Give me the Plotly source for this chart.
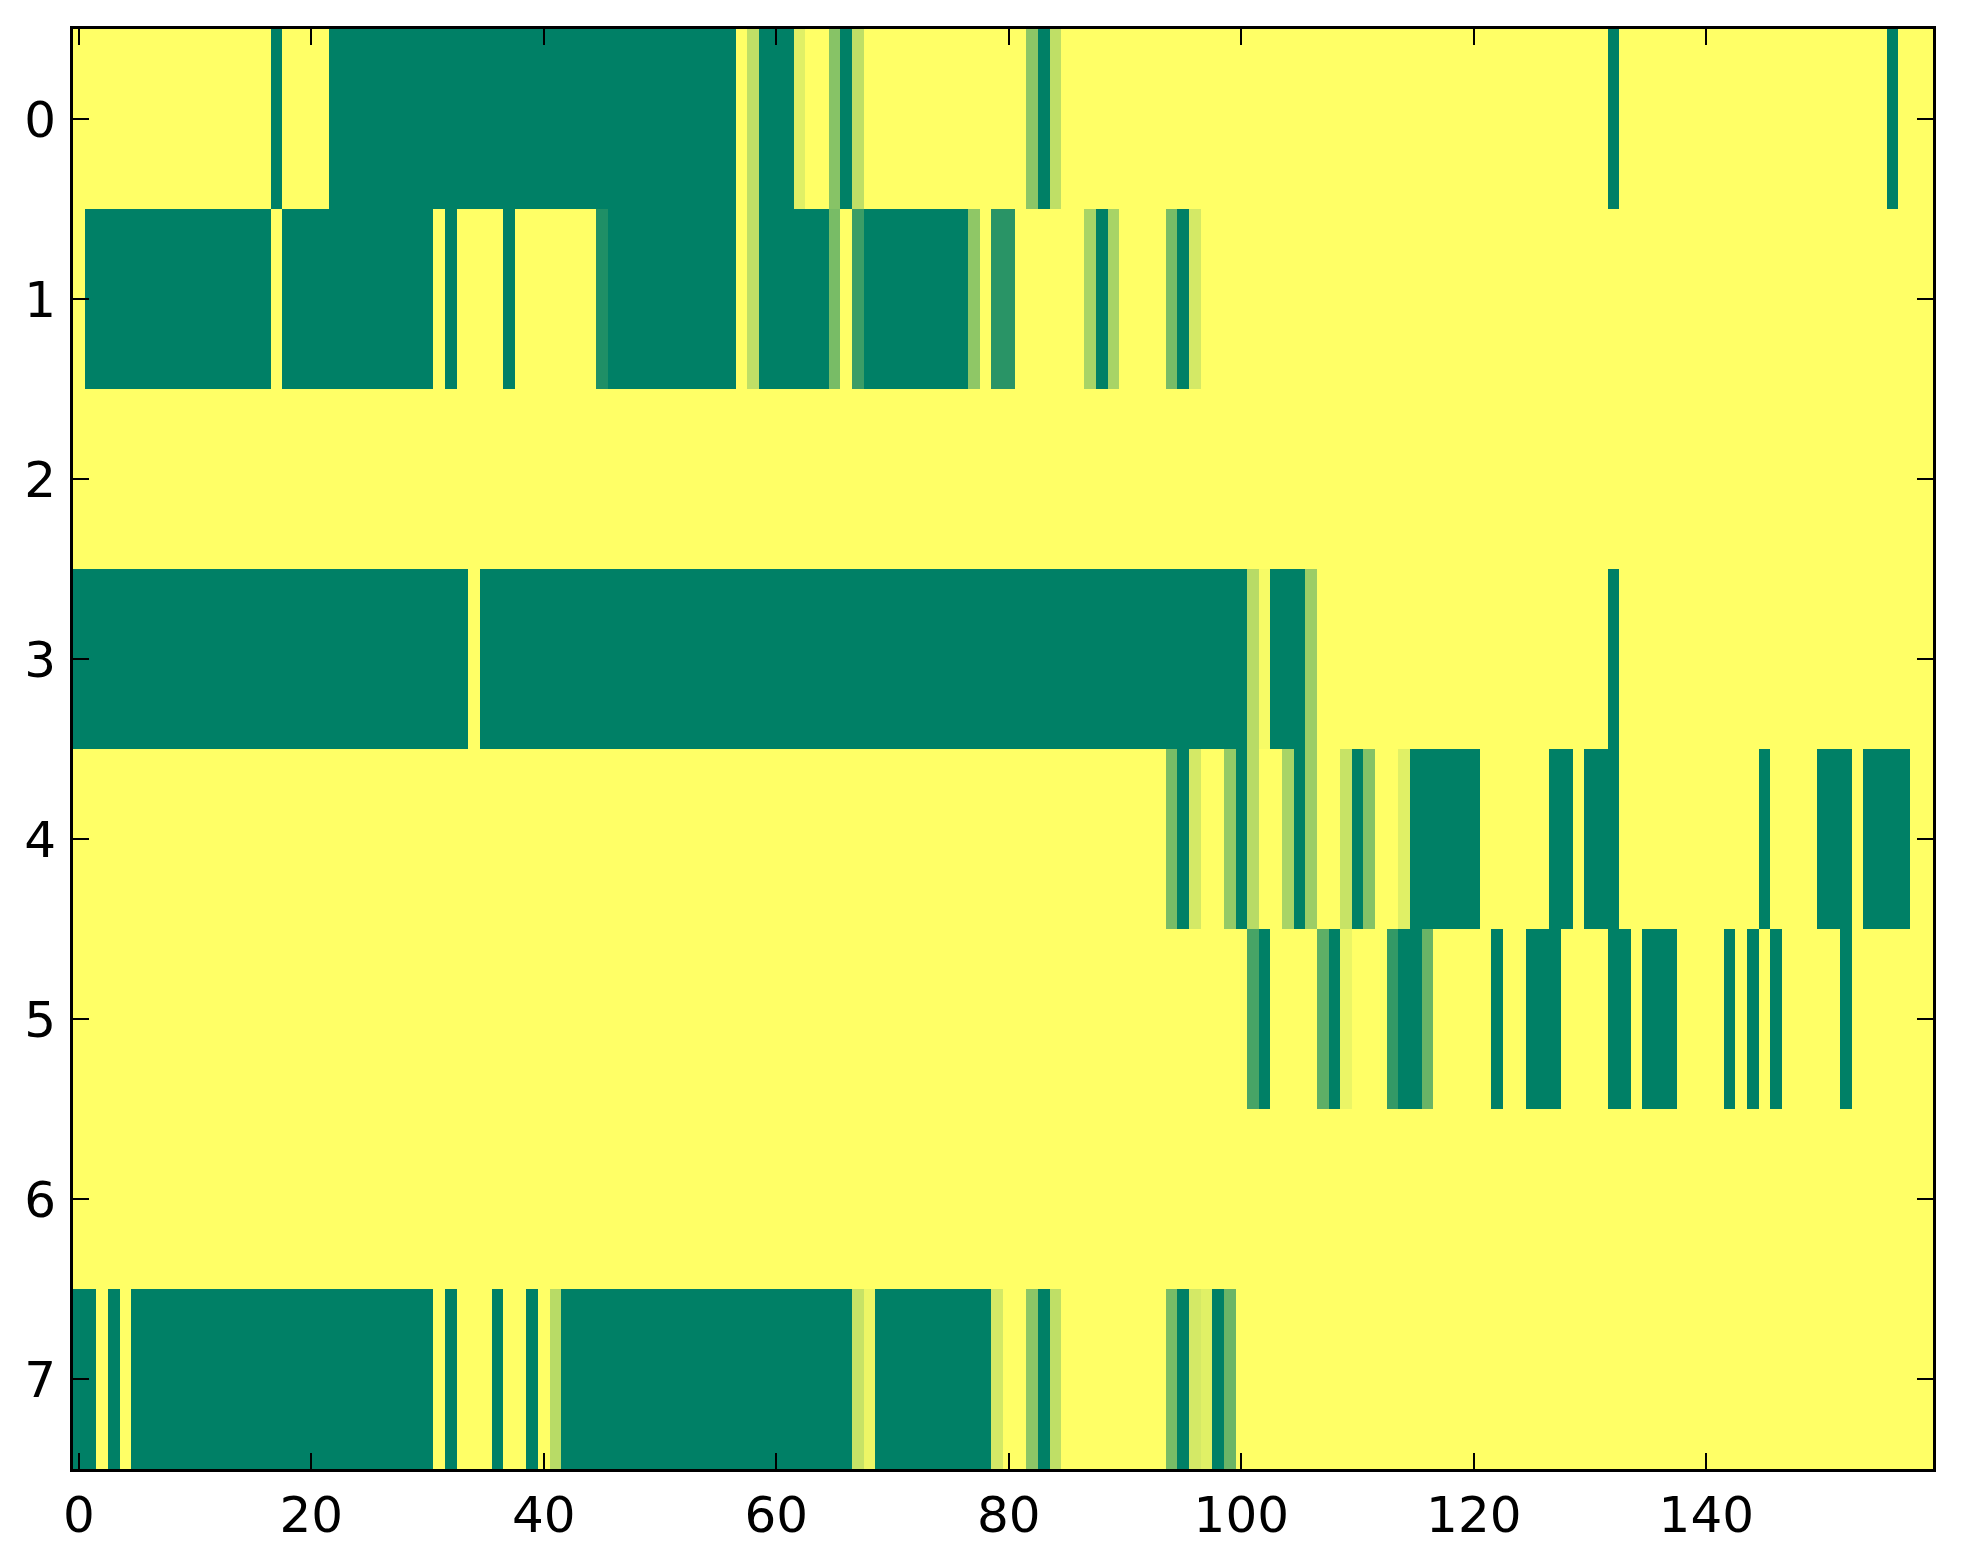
import plotly.graph_objects as go

# cell grid: 8 rows x 160 columns, values 0..1 (summer colormap)
columns = list(range(160))
rows = [0, 1, 2, 3, 4, 5, 6, 7]

row_0 = [1, 1, 1, 1, 1, 1, 1, 1, 1, 1, 1, 1, 1, 1, 1, 1, 1, 0, 1, 1,
         1, 1, 0, 0, 0, 0, 0, 0, 0, 0, 0, 0, 0, 0, 0, 0, 0, 0, 0, 0,
         0, 0, 0, 0, 0, 0, 0, 0, 0, 0, 0, 0, 0, 0, 0, 0, 0, 1, 0.75, 0,
         0, 0, 0.88, 1, 1, 0.53, 0, 0.75, 1, 1, 1, 1, 1, 1, 1, 1, 1, 1, 1, 1,
         1, 1, 0.55, 0, 0.75, 1, 1, 1, 1, 1, 1, 1, 1, 1, 1, 1, 1, 1, 1, 1,
         1, 1, 1, 1, 1, 1, 1, 1, 1, 1, 1, 1, 1, 1, 1, 1, 1, 1, 1, 1,
         1, 1, 1, 1, 1, 1, 1, 1, 1, 1, 1, 1, 0, 1, 1, 1, 1, 1, 1, 1,
         1, 1, 1, 1, 1, 1, 1, 1, 1, 1, 1, 1, 1, 1, 1, 1, 0, 1, 1, 1]

row_1 = [1, 0, 0, 0, 0, 0, 0, 0, 0, 0, 0, 0, 0, 0, 0, 0, 0, 1, 0, 0,
         0, 0, 0, 0, 0, 0, 0, 0, 0, 0, 0, 1, 0, 1, 1, 1, 1, 0, 1, 1,
         1, 1, 1, 1, 1, 0.12, 0, 0, 0, 0, 0, 0, 0, 0, 0, 0, 0, 1, 0.75, 0,
         0, 0, 0, 0, 0, 0.47, 1, 0.23, 0, 0, 0, 0, 0, 0, 0, 0, 0, 0.56, 1, 0.16,
         0.16, 1, 1, 1, 1, 1, 1, 0.66, 0, 0.66, 1, 1, 1, 1, 0.47, 0, 0.83, 1, 1, 1,
         1, 1, 1, 1, 1, 1, 1, 1, 1, 1, 1, 1, 1, 1, 1, 1, 1, 1, 1, 1,
         1, 1, 1, 1, 1, 1, 1, 1, 1, 1, 1, 1, 1, 1, 1, 1, 1, 1, 1, 1,
         1, 1, 1, 1, 1, 1, 1, 1, 1, 1, 1, 1, 1, 1, 1, 1, 1, 1, 1, 1]

row_2 = [1, 1, 1, 1, 1, 1, 1, 1, 1, 1, 1, 1, 1, 1, 1, 1, 1, 1, 1, 1,
         1, 1, 1, 1, 1, 1, 1, 1, 1, 1, 1, 1, 1, 1, 1, 1, 1, 1, 1, 1,
         1, 1, 1, 1, 1, 1, 1, 1, 1, 1, 1, 1, 1, 1, 1, 1, 1, 1, 1, 1,
         1, 1, 1, 1, 1, 1, 1, 1, 1, 1, 1, 1, 1, 1, 1, 1, 1, 1, 1, 1,
         1, 1, 1, 1, 1, 1, 1, 1, 1, 1, 1, 1, 1, 1, 1, 1, 1, 1, 1, 1,
         1, 1, 1, 1, 1, 1, 1, 1, 1, 1, 1, 1, 1, 1, 1, 1, 1, 1, 1, 1,
         1, 1, 1, 1, 1, 1, 1, 1, 1, 1, 1, 1, 1, 1, 1, 1, 1, 1, 1, 1,
         1, 1, 1, 1, 1, 1, 1, 1, 1, 1, 1, 1, 1, 1, 1, 1, 1, 1, 1, 1]

row_3 = [0, 0, 0, 0, 0, 0, 0, 0, 0, 0, 0, 0, 0, 0, 0, 0, 0, 0, 0, 0,
         0, 0, 0, 0, 0, 0, 0, 0, 0, 0, 0, 0, 0, 0, 1, 0, 0, 0, 0, 0,
         0, 0, 0, 0, 0, 0, 0, 0, 0, 0, 0, 0, 0, 0, 0, 0, 0, 0, 0, 0,
         0, 0, 0, 0, 0, 0, 0, 0, 0, 0, 0, 0, 0, 0, 0, 0, 0, 0, 0, 0,
         0, 0, 0, 0, 0, 0, 0, 0, 0, 0, 0, 0, 0, 0, 0, 0, 0, 0, 0, 0,
         0, 0.72, 0.97, 0, 0, 0, 0.61, 1, 1, 1, 1, 1, 1, 1, 1, 1, 1, 1, 1, 1,
         1, 1, 1, 1, 1, 1, 1, 1, 1, 1, 1, 1, 0, 1, 1, 1, 1, 1, 1, 1,
         1, 1, 1, 1, 1, 1, 1, 1, 1, 1, 1, 1, 1, 1, 1, 1, 1, 1, 1, 1]

row_4 = [1, 1, 1, 1, 1, 1, 1, 1, 1, 1, 1, 1, 1, 1, 1, 1, 1, 1, 1, 1,
         1, 1, 1, 1, 1, 1, 1, 1, 1, 1, 1, 1, 1, 1, 1, 1, 1, 1, 1, 1,
         1, 1, 1, 1, 1, 1, 1, 1, 1, 1, 1, 1, 1, 1, 1, 1, 1, 1, 1, 1,
         1, 1, 1, 1, 1, 1, 1, 1, 1, 1, 1, 1, 1, 1, 1, 1, 1, 1, 1, 1,
         1, 1, 1, 1, 1, 1, 1, 1, 1, 1, 1, 1, 1, 1, 0.47, 0, 0.83, 1, 1, 0.58,
         0, 0.72, 1, 1, 0.66, 0, 0.61, 1, 1, 0.78, 0, 0.52, 1, 1, 0.88, 0, 0, 0, 0, 0,
         0, 1, 1, 1, 1, 1, 1, 0, 0, 1, 0, 0, 0, 1, 1, 1, 1, 1, 1, 1,
         1, 1, 1, 1, 1, 0, 1, 1, 1, 1, 0, 0, 0, 1, 0, 0, 0, 0, 1, 1]

row_5 = [1, 1, 1, 1, 1, 1, 1, 1, 1, 1, 1, 1, 1, 1, 1, 1, 1, 1, 1, 1,
         1, 1, 1, 1, 1, 1, 1, 1, 1, 1, 1, 1, 1, 1, 1, 1, 1, 1, 1, 1,
         1, 1, 1, 1, 1, 1, 1, 1, 1, 1, 1, 1, 1, 1, 1, 1, 1, 1, 1, 1,
         1, 1, 1, 1, 1, 1, 1, 1, 1, 1, 1, 1, 1, 1, 1, 1, 1, 1, 1, 1,
         1, 1, 1, 1, 1, 1, 1, 1, 1, 1, 1, 1, 1, 1, 1, 1, 1, 1, 1, 1,
         1, 0.28, 0, 1, 1, 1, 1, 0.37, 0, 0.92, 1, 1, 1, 0.2, 0, 0, 0.41, 1, 1, 1,
         1, 1, 0, 1, 1, 0, 0, 0, 1, 1, 1, 1, 0, 0, 1, 0, 0, 0, 1, 1,
         1, 1, 0, 1, 0, 1, 0, 1, 1, 1, 1, 1, 0, 1, 1, 1, 1, 1, 1, 1]

row_6 = [1, 1, 1, 1, 1, 1, 1, 1, 1, 1, 1, 1, 1, 1, 1, 1, 1, 1, 1, 1,
         1, 1, 1, 1, 1, 1, 1, 1, 1, 1, 1, 1, 1, 1, 1, 1, 1, 1, 1, 1,
         1, 1, 1, 1, 1, 1, 1, 1, 1, 1, 1, 1, 1, 1, 1, 1, 1, 1, 1, 1,
         1, 1, 1, 1, 1, 1, 1, 1, 1, 1, 1, 1, 1, 1, 1, 1, 1, 1, 1, 1,
         1, 1, 1, 1, 1, 1, 1, 1, 1, 1, 1, 1, 1, 1, 1, 1, 1, 1, 1, 1,
         1, 1, 1, 1, 1, 1, 1, 1, 1, 1, 1, 1, 1, 1, 1, 1, 1, 1, 1, 1,
         1, 1, 1, 1, 1, 1, 1, 1, 1, 1, 1, 1, 1, 1, 1, 1, 1, 1, 1, 1,
         1, 1, 1, 1, 1, 1, 1, 1, 1, 1, 1, 1, 1, 1, 1, 1, 1, 1, 1, 1]

row_7 = [0, 0, 1, 0, 1, 0, 0, 0, 0, 0, 0, 0, 0, 0, 0, 0, 0, 0, 0, 0,
         0, 0, 0, 0, 0, 0, 0, 0, 0, 0, 0, 1, 0, 1, 1, 1, 0, 1, 1, 0,
         1, 0.72, 0, 0, 0, 0, 0, 0, 0, 0, 0, 0, 0, 0, 0, 0, 0, 0, 0, 0,
         0, 0, 0, 0, 0, 0, 0, 0.78, 0.93, 0, 0, 0, 0, 0, 0, 0, 0, 0, 0, 0.83,
         1, 1, 0.55, 0, 0.75, 1, 1, 1, 1, 1, 1, 1, 1, 1, 0.47, 0, 0.83, 0.88, 0, 0.42,
         1, 1, 1, 1, 1, 1, 1, 1, 1, 1, 1, 1, 1, 1, 1, 1, 1, 1, 1, 1,
         1, 1, 1, 1, 1, 1, 1, 1, 1, 1, 1, 1, 1, 1, 1, 1, 1, 1, 1, 1,
         1, 1, 1, 1, 1, 1, 1, 1, 1, 1, 1, 1, 1, 1, 1, 1, 1, 1, 1, 1]

x_ticks = [0, 20, 40, 60, 80, 100, 120, 140]
y_ticks = [0, 1, 2, 3, 4, 5, 6, 7]

# matplotlib "summer": green -> yellow
summer = [[0.0, 'rgb(0,128,102)'], [1.0, 'rgb(255,255,102)']]

fig = go.Figure()
fig.add_trace(go.Heatmap(
    z=[row_0, row_1, row_2, row_3, row_4, row_5, row_6, row_7],
    x=columns, y=rows,
    colorscale=summer, zmin=0, zmax=1,
    showscale=False,
))

axis_style = dict(
    showline=True, linewidth=3, linecolor='black', mirror='allticks',
    ticks='inside', ticklen=16, tickwidth=1.5, tickcolor='black',
    showgrid=False, zeroline=False,
    tickfont=dict(family='DejaVu Sans', size=50, color='black'),
)

fig.update_xaxes(range=[-0.5, 159.5], tickvals=x_ticks, ticklabelstandoff=0, **axis_style)
fig.update_yaxes(range=[7.5, -0.5], tickvals=y_ticks, ticklabelstandoff=4, **axis_style)

# page body adds an 8px offset, so the figure is a bit smaller than the window
fig.update_layout(
    width=1955, height=1556,
    margin=dict(l=65, r=30, t=21, b=95),
    plot_bgcolor='white', paper_bgcolor='white',
)

fig.write_html("out.html")
